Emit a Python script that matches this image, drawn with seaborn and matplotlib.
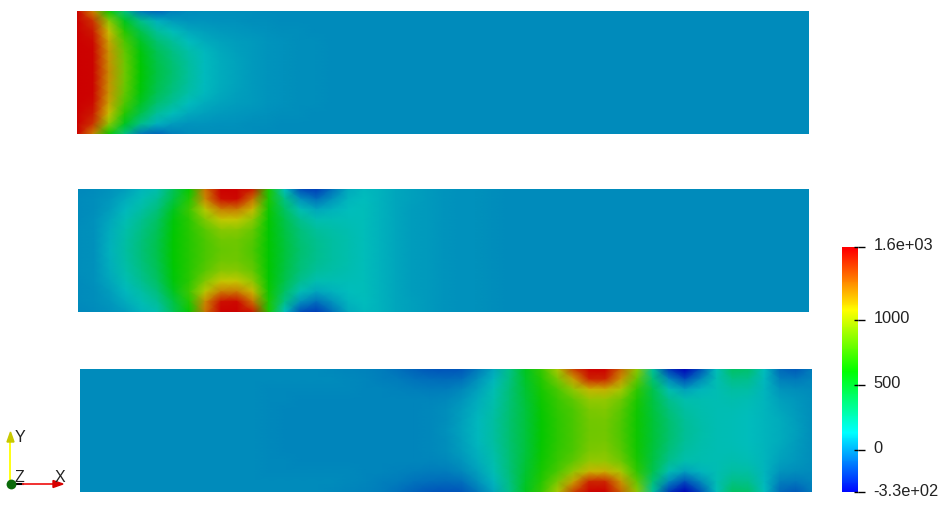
import numpy as np
import matplotlib
matplotlib.use("Agg")
import matplotlib.pyplot as plt
from matplotlib.colors import LinearSegmentedColormap, Normalize
from matplotlib.cm import ScalarMappable
from matplotlib.transforms import ScaledTranslation
import seaborn as sns

N_COLS = 47
BACKGROUND = 25

# Field values: rows run from the wall (top) to the mid line.
inlet_rows = [
    [1559, 1250, 650, 300, -20, -70, 0, 25, 30, 30, 30, 30, 28],
    [1559, 1440, 950, 540, 280, 120, 70, 50, 45, 40, 38, 35, 30],
    [1559, 1500, 1110, 700, 430, 240, 155, 100, 80, 65, 55, 50, 42, 35, 30],
    [1559, 1530, 1170, 800, 530, 340, 240, 150, 105, 85, 70, 60, 50, 40, 35, 30],
    [1559, 1545, 1210, 850, 590, 410, 300, 200, 135, 100, 78, 62, 50, 40, 35, 30, 28],
    [1559, 1550, 1220, 870, 610, 440, 330, 225, 145, 105, 82, 62, 50, 40, 35, 30, 28],
    [1559, 1550, 1230, 880, 620, 450, 340, 235, 145, 105, 82, 62, 50, 40, 35, 30, 28],
]
middle_rows = [
    [20, 25, 40, 70, 130, 190, 400, 640, 1280, 1640, 1650, 1500, 680, 150, -130, -170, -40, 100, 140,
     120, 95, 75, 60, 50, 43, 38, 33, 28],
    [25, 30, 55, 110, 170, 250, 450, 700, 1230, 1520, 1530, 1290, 680, 290, 40, -40, 50, 130, 150,
     122, 95, 75, 60, 50, 43, 38, 33, 28],
    [25, 35, 70, 140, 210, 310, 540, 760, 1050, 1260, 1270, 1120, 650, 370, 170, 90, 120, 150, 155,
     122, 92, 72, 60, 50, 43, 38, 33, 28],
    [28, 38, 90, 170, 260, 370, 590, 720, 920, 1080, 1080, 950, 630, 430, 260, 180, 170, 165, 155,
     120, 90, 72, 60, 50, 43, 38, 33, 28],
    [30, 40, 105, 195, 290, 400, 610, 710, 830, 940, 940, 860, 625, 450, 310, 230, 200, 180, 155,
     120, 90, 72, 60, 50, 43, 38, 33, 28],
    [30, 40, 115, 210, 310, 420, 620, 700, 800, 880, 880, 820, 625, 470, 330, 260, 215, 185, 155,
     120, 90, 72, 60, 50, 43, 38, 33, 28],
    [30, 40, 120, 220, 320, 430, 620, 700, 790, 860, 870, 800, 625, 475, 340, 270, 220, 190, 155,
     120, 90, 72, 60, 50, 43, 38, 33, 28],
]
outlet_left = [25] * 12
outlet_rows = [
    outlet_left + [25, 25, 25, 25, 20, 15, 5, -10, -40, -80, -105, -115, -105, -20, 90, 280, 540, 750, 1020,
                   1400, 1640, 1650, 1320, 950, 230, -180, -320, -120, 160, 370, 350, 150, -60, -100, -10],
    outlet_left + [25, 25, 25, 25, 25, 20, 10, 0, -10, -30, -50, -55, -40, 40, 130, 300, 520, 700, 900,
                   1180, 1470, 1470, 1210, 850, 330, 20, -130, 20, 170, 280, 270, 140, 0, -20, 10],
    outlet_left + [22, 22, 22, 22, 22, 20, 15, 10, 5, -5, -10, -10, 20, 80, 170, 320, 500, 670, 790,
                   960, 1130, 1140, 1010, 730, 420, 180, 80, 130, 170, 220, 210, 130, 50, 30, 25],
    outlet_left + [20, 18, 15, 14, 12, 12, 12, 10, 10, 10, 15, 20, 50, 110, 190, 330, 480, 650, 750,
                   840, 970, 970, 880, 680, 450, 270, 190, 180, 175, 190, 175, 130, 80, 55, 30],
    outlet_left + [18, 15, 12, 10, 10, 8, 8, 8, 10, 15, 18, 30, 70, 125, 205, 335, 470, 640, 730,
                   800, 910, 920, 830, 660, 470, 310, 220, 190, 175, 175, 160, 130, 95, 65, 32],
    outlet_left + [18, 15, 12, 10, 10, 8, 8, 8, 10, 15, 22, 35, 80, 135, 215, 340, 470, 630, 720,
                   790, 890, 895, 805, 650, 480, 340, 240, 198, 175, 168, 152, 130, 105, 72, 34],
    outlet_left + [18, 15, 12, 10, 10, 8, 8, 8, 10, 15, 22, 40, 85, 140, 220, 340, 470, 630, 720,
                   790, 880, 890, 800, 650, 480, 350, 250, 200, 175, 165, 150, 130, 110, 75, 35],
]
bar_ticks = [-323, 0, 500, 1000, 1559]
bar_labels = ["-3.3e+02", "0", "500", "1000", "1.6e+03"]
VMIN, VMAX = -323, 1559

W, H = 948, 505
plt.rcParams["font.family"] = ["Liberation Sans", "DejaVu Sans"]
fig = plt.figure(figsize=(W / 100, H / 100), dpi=100, facecolor="white")


def px_axes(x0, y0, x1, y1):
    return fig.add_axes([x0 / W, 1 - y1 / H, (x1 - x0) / W, (y1 - y0) / H])


bar_cmap = LinearSegmentedColormap.from_list(
    "bar", ["#0000ff", "#00ffff", "#00ff00", "#ffff00", "#ff0000"])
lit_cmap = LinearSegmentedColormap.from_list(
    "lit", [(0, 0, 0.72), (0, 0.74, 0.74), (0, 0.78, 0), (0.78, 0.78, 0), (0.8, 0, 0)])


def field(rows):
    filled = [r + [BACKGROUND] * (N_COLS - len(r)) for r in rows]
    return np.array(filled + filled[-2::-1], dtype=float)


panels = [
    (inlet_rows, (77, 11, 809, 134)),
    (middle_rows, (78, 189, 809, 312)),
    (outlet_rows, (80, 369, 812, 492)),
]
for rows, box in panels:
    ax = px_axes(*box)
    data = field(rows)
    sns.heatmap(data, ax=ax, cmap=lit_cmap, vmin=VMIN, vmax=VMAX, cbar=False,
                xticklabels=False, yticklabels=False, shading="gouraud")
    ax.set_xlim(0, data.shape[1] - 1)
    ax.set_ylim(data.shape[0] - 1, 0)
    ax.axis("off")

cax = px_axes(842, 247, 858, 492)
sm = ScalarMappable(norm=Normalize(VMIN, VMAX), cmap=bar_cmap)
cb = fig.colorbar(sm, cax=cax, ticks=bar_ticks)
cb.outline.set_visible(False)
cb.ax.set_yticklabels(bar_labels, fontsize=11.8, color="#222222")
cb.ax.tick_params(length=5, width=1, color="black", pad=6)
cb.ax.hlines(bar_ticks, 0.75, 1, transform=cb.ax.get_yaxis_transform(),
             color="black", lw=1, clip_on=False, zorder=5)
cb.solids.set_edgecolor("face")
for lbl in cb.ax.get_yticklabels():
    lbl.set_transform(lbl.get_transform() + ScaledTranslation(0, 2.5 / 100, fig.dpi_scale_trans))

# orientation triad, drawn in pixel space
ov = fig.add_axes([0, 0, 1, 1], facecolor="none")
ov.set_xlim(0, W)
ov.set_ylim(H, 0)
ov.axis("off")
ov.plot([10.5, 10.5], [484, 440], color="#ffff00", lw=1.3, zorder=2)
ov.fill([7, 14, 10.5], [442, 442, 432], color="#c8c800", zorder=3)
ov.plot([11, 23], [484, 484], color="black", lw=1.5, zorder=2)
ov.plot([23, 54], [484, 484], color="#f02020", lw=1.3, zorder=2)
ov.fill([53, 53, 63], [480.5, 487.5, 484], color="#d80000", zorder=3)
ov.scatter([10.7], [484], s=50, color="#0a6a0a", zorder=4, linewidths=0)
for txt, x, y in [("Y", 15, 438), ("Z", 15, 478), ("X", 55, 478)]:
    ov.text(x, y, txt, fontsize=11.5, color="#222222", va="center", ha="left", zorder=5)

fig.savefig("out.png", dpi=100)
